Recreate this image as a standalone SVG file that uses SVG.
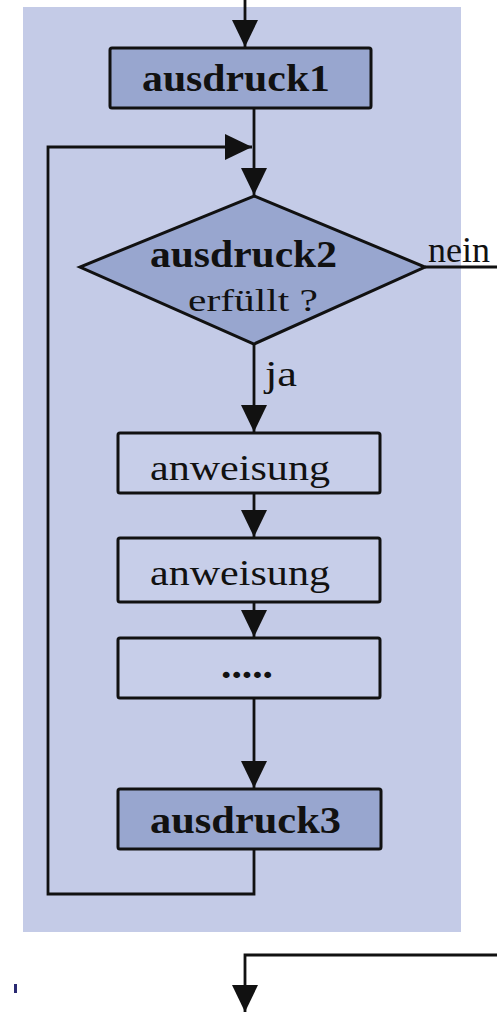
<svg xmlns="http://www.w3.org/2000/svg" width="497" height="1013" viewBox="0 0 497 1013">
  <style>
    .panel { fill: #c4cbe7; }
    .box { stroke: #111; stroke-width: 3; }
    .dark { fill: #98a6cf; }
    .light { fill: #c7cee9; }
    .wire { fill: none; stroke: #111; stroke-width: 2.8; }
    text { font-family: 'Liberation Serif', Tinos, 'Times New Roman', serif; fill: #111; }
    .bold { font-weight: bold; font-size: 38px; }
    .reg { font-size: 36px; }
    .small { font-size: 31px; }
    .label { font-size: 35px; }
  </style>
  <defs>
    <marker id="arrow" markerUnits="userSpaceOnUse" markerWidth="28" markerHeight="26" refX="27" refY="13" orient="auto">
      <path d="M0,0 L27,13 L0,26 z" fill="#111"/>
    </marker>
  </defs>

  <rect class="panel" x="23" y="7" width="438" height="925"/>

  <g id="connectors">
    <path class="wire" d="M245,0 V47" marker-end="url(#arrow)"/>
    <path class="wire" d="M254,108 V195" marker-end="url(#arrow)"/>
    <path class="wire" d="M254,849 V894 H48 V147 H252" marker-end="url(#arrow)"/>
    <path class="wire" d="M425,267 H497"/>
    <path class="wire" d="M254,344 V432" marker-end="url(#arrow)"/>
    <path class="wire" d="M254,493 V537" marker-end="url(#arrow)"/>
    <path class="wire" d="M254,602 V637" marker-end="url(#arrow)"/>
    <path class="wire" d="M254,698 V788" marker-end="url(#arrow)"/>
    <path class="wire" d="M497,955 H245 V1012" marker-end="url(#arrow)"/>
    <text class="label" x="428" y="262" textLength="62" lengthAdjust="spacingAndGlyphs">nein</text>
    <text class="label" x="265" y="386" textLength="32" lengthAdjust="spacingAndGlyphs">ja</text>
  </g>

  <g id="ausdruck1">
    <rect class="box dark" x="110" y="48" width="261" height="60" rx="2"/>
    <text class="bold" x="142" y="91" textLength="188" lengthAdjust="spacingAndGlyphs">ausdruck1</text>
  </g>

  <g id="ausdruck2">
    <polygon class="box dark" points="254,196 425,267 254,344 80,267"/>
    <text class="bold" x="150" y="267" textLength="187" lengthAdjust="spacingAndGlyphs">ausdruck2</text>
    <text class="small" x="188" y="311" textLength="130" lengthAdjust="spacingAndGlyphs">erfüllt ?</text>
  </g>

  <g id="anweisung1">
    <rect class="box light" x="118" y="433" width="262" height="60" rx="2"/>
    <text class="reg" x="150" y="480" textLength="180" lengthAdjust="spacingAndGlyphs">anweisung</text>
  </g>

  <g id="anweisung2">
    <rect class="box light" x="118" y="538" width="262" height="64" rx="2"/>
    <text class="reg" x="150" y="585" textLength="180" lengthAdjust="spacingAndGlyphs">anweisung</text>
  </g>

  <g id="weitere">
    <rect class="box light" x="118" y="638" width="262" height="60" rx="2"/>
    <text class="bold" x="221" y="678" textLength="52" lengthAdjust="spacingAndGlyphs">.....</text>
  </g>

  <g id="ausdruck3">
    <rect class="box dark" x="118" y="789" width="263" height="60" rx="2"/>
    <text class="bold" x="150" y="833" textLength="191" lengthAdjust="spacingAndGlyphs">ausdruck3</text>
  </g>

  <rect x="14" y="984" width="3" height="9" fill="#2a2a72"/>
</svg>
